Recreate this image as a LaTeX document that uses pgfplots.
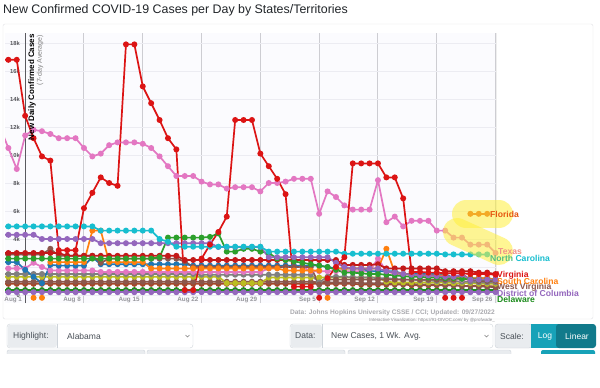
\documentclass[border=0pt]{standalone}
\usepackage{fontspec}
\setmainfont{Liberation Sans}
\usepackage{pgfplots}
\pgfplotsset{compat=1.18}
\usepackage{pgfplotstable}
\definecolor{cRed}{RGB}{220,20,20}
\definecolor{cDark}{RGB}{195,25,25}
\definecolor{cPink}{RGB}{227,119,194}
\definecolor{cCyan}{RGB}{23,190,207}
\definecolor{cPurple}{RGB}{148,103,189}
\definecolor{cGreen}{RGB}{44,160,44}
\definecolor{cOrange}{RGB}{255,127,14}
\definecolor{cBlue}{RGB}{31,119,180}
\definecolor{cBrown}{RGB}{140,86,75}
\definecolor{cGray}{RGB}{127,127,127}
\definecolor{cOlive}{RGB}{188,189,34}
\definecolor{cBrick}{RGB}{165,70,40}
\definecolor{cFlorida}{RGB}{230,85,15}
\definecolor{cDel}{RGB}{30,140,30}
\definecolor{hl}{RGB}{255,240,60}
\definecolor{uiGray}{RGB}{233,236,239}
\definecolor{uiBorder}{RGB}{206,212,218}
\definecolor{uiText}{RGB}{73,80,87}
\definecolor{tealA}{RGB}{23,162,184}
\definecolor{tealB}{RGB}{17,122,139}

\pgfplotstableread{
d R P C U G O D B L K Y V W X E Q
-3 16.8 12.0 4.9 4.3 2.6 nan 3.0 2.9 2.35 1.9 1.5 1.3 0.95 0.8 0.35 0.2
-2 16.8 10.5 4.9 4.3 2.6 nan 3.0 2.9 2.35 1.9 1.5 1.3 0.95 0.8 0.35 0.2
-1 16.8 9.0 4.9 4.3 2.6 nan 3.0 2.9 2.35 1.9 1.5 1.3 0.95 0.8 0.35 0.2
0 12.8 11.4 4.9 4.3 2.6 nan 3.0 2.9 1.8 1.9 1.5 1.3 0.95 0.8 0.35 0.2
1 11.2 11.8 4.9 4.3 2.6 nan 3.0 2.9 1.3 2.3 1.5 1.3 0.95 0.8 0.35 0.2
2 9.9 11.7 4.9 4.0 2.6 nan 3.0 2.9 0.85 2.0 1.5 1.3 0.95 0.8 0.35 0.2
3 9.6 11.5 4.9 4.0 2.6 2.35 3.0 3.3 2.15 1.75 1.5 1.3 0.95 0.8 0.35 0.2
4 3.2 11.2 4.9 4.0 2.6 2.35 3.0 2.8 2.1 1.75 1.5 1.3 0.95 0.8 0.35 0.2
5 3.2 11.2 4.9 4.0 2.6 2.35 2.8 2.8 2.1 1.75 1.5 1.3 0.95 0.8 0.35 0.2
6 3.2 11.2 4.9 4.0 2.6 2.35 2.8 2.8 2.1 1.75 1.5 1.3 0.95 0.8 0.35 0.2
7 6.2 10.5 4.9 4.0 2.6 2.35 2.8 2.8 2.1 1.75 1.5 1.3 0.95 0.8 0.35 0.2
8 7.3 9.9 4.9 4.0 2.6 4.6 2.8 2.8 2.7 1.75 1.5 1.3 0.95 0.8 0.35 0.2
9 8.4 10.1 4.6 3.7 2.6 4.6 2.8 2.3 2.2 1.65 1.5 1.3 0.95 0.8 0.35 0.2
10 8.0 10.7 4.6 3.7 2.6 2.35 2.8 2.6 2.2 1.65 1.5 1.3 0.95 0.8 0.35 0.2
11 7.8 10.9 4.6 3.7 2.6 2.35 2.8 2.6 2.2 1.65 1.5 1.3 0.95 0.8 0.35 0.2
12 17.9 10.9 4.6 3.7 2.6 2.35 2.8 2.6 2.2 1.65 1.5 1.3 0.95 0.8 0.35 0.2
13 17.9 10.9 4.6 3.7 2.6 2.35 2.8 2.6 2.2 1.65 1.5 1.3 0.95 0.8 0.35 0.2
14 14.9 10.8 4.6 3.7 2.6 2.35 2.8 2.6 2.2 1.65 1.5 1.3 0.95 0.8 0.35 0.2
15 13.7 10.5 4.6 3.7 2.6 1.9 2.8 2.6 2.2 1.65 1.5 1.3 0.95 0.8 0.35 0.2
16 12.5 9.9 4.0 3.7 2.7 1.9 2.8 2.6 2.2 1.65 1.5 1.3 0.95 0.8 0.35 0.2
17 11.2 9.2 3.8 3.7 4.1 1.9 2.8 2.6 2.2 1.65 1.5 1.3 0.95 0.8 0.35 0.2
18 10.4 8.5 3.45 3.7 4.1 1.9 2.8 2.6 2.2 1.65 1.5 1.3 0.95 0.8 0.35 0.2
19 0.35 8.5 3.45 3.7 4.1 1.9 2.5 2.4 2.2 1.65 1.5 1.3 0.95 0.8 0.35 0.2
20 0.35 8.5 3.45 3.7 4.1 1.9 2.5 2.0 2.1 1.65 1.5 1.3 0.95 0.8 0.35 0.2
21 2.6 8.1 3.45 3.7 4.1 1.9 2.5 2.0 2.1 1.65 1.45 1.3 0.95 0.8 0.35 0.2
22 3.6 7.9 3.45 3.7 4.15 1.9 2.5 2.0 2.1 1.65 1.45 1.3 0.95 0.8 0.35 0.2
23 4.5 7.9 3.45 3.43 4.4 1.9 2.5 2.0 2.1 1.65 1.45 1.3 0.95 0.8 0.35 0.2
24 5.6 7.6 3.45 3.43 3.1 1.9 2.5 2.0 2.1 1.65 1.45 0.85 0.95 0.8 0.35 0.2
25 12.5 7.7 3.45 3.43 3.1 1.9 2.5 2.0 2.1 1.65 1.45 0.85 0.95 0.8 0.35 0.2
26 12.5 7.7 3.45 3.43 3.3 1.9 2.5 2.0 2.1 1.65 1.45 0.85 0.95 0.8 0.35 0.2
27 12.5 7.7 3.45 3.43 3.3 1.9 2.5 2.0 2.1 1.65 1.45 0.85 0.95 0.8 0.35 0.2
28 10.1 7.4 3.45 3.43 3.1 1.9 2.5 2.0 2.1 1.65 1.45 0.85 0.95 0.8 0.35 0.2
29 9.2 8.0 3.1 2.7 3.0 1.9 2.5 2.0 2.1 1.9 1.45 1.25 0.95 0.8 0.35 0.2
30 8.3 8.0 3.1 2.7 2.6 1.9 2.5 2.0 2.1 2.0 1.45 1.25 0.95 0.8 0.35 0.2
31 7.2 8.1 3.1 2.7 2.5 1.75 2.5 2.0 2.1 2.0 1.45 1.25 0.95 0.8 0.35 0.2
32 0.6 8.3 3.1 2.7 2.4 1.75 2.5 2.0 2.1 2.0 1.45 1.25 0.95 0.8 0.35 0.2
33 0.6 8.3 3.1 2.7 2.3 1.75 2.5 2.0 2.1 2.0 1.45 1.25 0.95 0.8 0.35 0.2
34 0.6 8.3 3.1 2.7 2.2 1.75 2.5 2.0 2.1 1.7 1.45 1.25 0.95 0.8 0.35 0.2
35 nan 5.8 3.1 2.7 2.1 1.75 2.5 0.75 2.1 1.7 0.9 1.25 0.9 0.8 0.35 0.2
36 1.2 7.4 3.1 2.7 2.0 nan 2.5 1.1 2.0 1.7 1.3 1.25 0.9 0.8 0.35 0.2
37 2.0 7.0 3.1 2.3 1.8 1.9 2.5 1.1 1.9 1.7 1.3 1.25 0.9 0.8 0.35 0.2
38 2.7 6.4 2.95 2.0 1.6 1.9 2.15 1.1 1.9 1.7 1.3 1.25 0.9 0.8 0.35 0.2
39 9.4 6.1 2.95 1.9 1.6 1.9 2.15 1.1 1.9 1.7 1.25 1.25 0.9 0.8 0.35 0.2
40 9.4 6.1 2.95 1.9 1.55 1.9 2.15 1.1 1.9 1.7 1.25 1.25 0.85 0.75 0.35 0.2
41 9.4 6.1 2.95 1.9 1.5 1.9 2.15 1.1 1.7 1.7 1.25 1.25 0.85 0.75 0.35 0.2
42 9.4 8.2 2.95 1.9 1.5 1.9 2.2 1.1 1.7 2.6 1.2 1.25 0.85 0.75 0.35 0.2
43 8.4 5.2 2.95 1.7 1.45 3.3 1.9 1.1 1.7 1.7 1.2 0.95 0.85 0.75 0.35 0.2
44 8.4 5.6 2.95 1.6 1.4 1.6 1.9 1.1 1.7 1.5 1.15 0.9 0.8 0.75 0.35 0.2
45 6.9 4.9 2.95 1.5 1.35 1.5 1.9 1.1 1.5 1.5 1.1 0.9 0.8 0.75 0.35 0.2
46 1.65 5.3 2.95 1.45 1.3 1.45 1.9 1.1 1.5 1.5 1.1 0.9 0.8 0.7 0.35 0.2
47 1.65 5.3 2.95 1.4 1.3 1.4 1.9 1.1 1.5 1.5 1.05 0.9 0.75 0.7 0.35 0.2
48 1.6 5.3 2.95 1.4 1.25 1.4 1.9 1.1 1.5 1.5 1.05 0.9 0.75 0.7 0.35 0.2
49 1.6 4.6 2.95 1.35 1.25 1.4 1.9 1.1 1.5 1.5 1.0 0.9 0.75 0.7 0.35 0.2
50 1.55 4.6 2.9 1.3 1.2 1.4 1.7 1.1 1.5 1.5 1.0 0.9 0.7 0.7 0.35 0.2
51 1.55 4.1 2.9 1.3 1.2 1.2 1.7 1.1 1.2 1.1 1.0 0.85 0.7 0.7 0.35 0.2
52 1.55 4.1 2.9 1.45 1.15 1.2 1.7 1.5 1.2 1.1 0.95 0.85 0.65 0.65 0.35 0.2
53 1.5 3.6 2.9 1.1 1.15 1.2 1.7 1.1 1.2 1.1 0.95 0.85 0.65 0.65 0.35 0.2
54 1.5 3.6 2.9 1.1 1.1 1.2 1.6 1.0 1.2 1.1 0.9 0.8 0.6 0.65 0.35 0.2
55 1.5 3.6 2.9 1.1 1.1 1.2 1.6 1.0 1.2 1.1 0.9 0.8 0.6 0.65 0.35 0.2
56 1.45 3.0 nan 1.1 1.1 1.1 1.5 1.0 1.1 1.0 0.9 0.8 0.55 0.6 0.35 0.2
}\data

\newcommand{\lbl}{\fontsize{8.6}{10}\selectfont\bfseries}
\newcommand{\ui}{\fontsize{8.5}{10}\selectfont}

\begin{document}
\begin{tikzpicture}[x=1pt,y=1pt]
\useasboundingbox (0,0) rectangle (600,-388);
\fill[white] (0,0) rectangle (600,-388);
% title
\node[anchor=base west, inner sep=0, font=\fontsize{12.4}{14}\selectfont, text={rgb,255:red,33;green,37;blue,41}] at (3,-13) {New Confirmed COVID-19 Cases per Day by States/Territories};
% card frame
\draw[rounded corners=2pt, draw={rgb,255:red,225;green,225;blue,230}] (3,-24) rectangle (593,-319);

\begin{axis}[
  at={(5pt,-303pt)}, anchor=south west,
  scale only axis, width=491pt, height=270pt,
  xmin=-2.4, xmax=56.05, ymin=-0.571, ymax=18.714,
  axis line style={draw=none},
  axis background/.style={fill={rgb,255:red,251;green,251;blue,254}},
  major tick length=0pt,
  xtick={0,7,14,21,28,35,42,49,56},
  xticklabels={Aug 1,Aug 8,Aug 15,Aug 22,Aug 29,Sep 5,Sep 12,Sep 19,Sep 26},
  xticklabel style={anchor=south east, inner sep=1pt, xshift=-2pt, yshift=-1pt,
     font=\fontsize{6.3}{7}\selectfont\bfseries, text={rgb,255:red,150;green,150;blue,155}},
  ytick={0,2,4,6,8,10,12,14,16,18},
  yticklabels={0,2k,4k,6k,8k,10k,12k,14k,16k,18k},
  yticklabel style={anchor=east, inner sep=1pt, xshift=16pt,
     font=\fontsize{5.8}{7}\selectfont\bfseries, text={rgb,255:red,85;green,85;blue,90}},
  xmajorgrids, ymajorgrids,
  x grid style={draw={rgb,255:red,205;green,205;blue,210}, line width=1pt},
  y grid style={draw={rgb,255:red,236;green,236;blue,242}, line width=0.7pt},
  unbounded coords=jump,
  every axis plot/.append style={line width=1.7pt, mark=*, mark size=2.1pt, mark options={solid}},
]
\draw[draw={rgb,255:red,90;green,90;blue,95}, line width=1pt] (0,-0.571) -- (0,18.714);
\draw[draw={rgb,255:red,120;green,120;blue,125}, line width=1pt] (56.05,-0.571) -- (56.05,18.714);

\addplot[color=cDel] table[x=d,y=E]{\data};
\addplot[color=cPurple] table[x=d,y=Q]{\data};
\addplot[color=cBrick] table[x=d,y=X]{\data};
\addplot[color=cBrown] table[x=d,y=W]{\data};
\addplot[color=cOlive] table[x=d,y=V]{\data};
\addplot[color=cGray] table[x=d,y=Y]{\data};
\addplot[color=cPink] table[x=d,y=K]{\data};
\addplot[color=cBlue] table[x=d,y=L]{\data};
\addplot[color=cBrown] table[x=d,y=B]{\data};
\addplot[color=cDark] table[x=d,y=D]{\data};
\addplot[color=cOrange] table[x=d,y=O]{\data};
\addplot[color=cGreen] table[x=d,y=G]{\data};
\addplot[color=cPurple] table[x=d,y=U]{\data};
\addplot[color=cCyan] table[x=d,y=C]{\data};
\addplot[color=cPink] table[x=d,y=P]{\data};
\addplot[color=cRed] table[x=d,y=R]{\data};
\addplot[color=cFlorida] coordinates {(53,5.8) (54,5.8) (55,5.8)};
\addplot[only marks, color=cRed] coordinates {(35,-0.2) (50,-0.2) (51,-0.2) (52,-0.2)};
\addplot[only marks, color=cOrange] coordinates {(1,-0.2) (2,-0.2) (36,-0.2)};
\end{axis}

% highlight blobs
\draw[hl, opacity=0.55, line width=28pt, line cap=round] (466,-214) -- (499,-214);
\draw[hl, opacity=0.55, line width=28pt, line cap=round] (457,-232) -- (499,-251);

% end labels
\node[anchor=west, inner sep=0, font=\lbl, text=cDel] at (497,-299) {Delaware};
\node[anchor=west, inner sep=0, font=\lbl, text=cPurple] at (497,-293) {District of Columbia};
\node[anchor=west, inner sep=0, font=\lbl, text=cBrown] at (497,-287.5) {West Virginia};
\node[anchor=west, inner sep=0, font=\lbl, text=cOrange] at (497,-281.5) {South Carolina};
\node[anchor=west, inner sep=0, font=\lbl, text=cRed] at (497,-275.5) {Virginia};
\node[anchor=west, inner sep=0, font=\lbl] at (490,-258.5) {\textcolor[RGB]{80,190,130}{North} \textcolor{cCyan}{Carolina}};
\node[anchor=west, inner sep=0, font=\lbl, text={rgb,255:red,240;green,145;blue,135}] at (498,-252) {Texas};
\node[anchor=west, inner sep=0, font=\lbl, text=cFlorida] at (490,-214) {Florida};

% y axis title
\node[rotate=90, anchor=east, inner sep=0, font=\fontsize{8}{9}\selectfont\bfseries] at (32,-34) {New Daily Confirmed Cases};
\node[rotate=90, anchor=east, inner sep=0, font=\fontsize{7}{8}\selectfont, text=gray] at (40,-35) {(7-day Average)};

% source
\node[anchor=base east, inner sep=0, font=\fontsize{6.6}{8}\selectfont\bfseries, text={rgb,255:red,170;green,170;blue,175}] at (495,-314.5) {Data: Johns Hopkins University CSSE / CCI; Updated: 09/27/2022};
\node[anchor=base east, inner sep=0, font=\fontsize{4.4}{5}\selectfont, text={rgb,255:red,140;green,140;blue,145}] at (495,-321.5) {Interactive Visualization: https://91-DIVOC.com/ by @profwade\_};

% UI controls row 1
\draw[uiBorder, fill=white, rounded corners=3pt] (7,-324) rectangle (193,-348);
\fill[uiGray, rounded corners=3pt] (7.5,-324.5) rectangle (57,-347.5);
\draw[uiBorder] (57,-324) -- (57,-348);
\node[anchor=west, inner sep=0, font=\ui, text=uiText] at (13,-336) {Highlight:};
\node[anchor=west, inner sep=0, font=\ui, text=uiText] at (67,-336) {Alabama};
\draw[gray, line width=0.5pt] (185.5,-335) -- (187.5,-337) -- (189.5,-335);

\draw[uiBorder, fill=white, rounded corners=3pt] (290,-324) rectangle (493,-348);
\fill[uiGray, rounded corners=3pt] (290.5,-324.5) rectangle (322,-347.5);
\draw[uiBorder] (322,-324) -- (322,-348);
\node[anchor=west, inner sep=0, font=\ui, text=uiText] at (295,-336) {Data:};
\node[anchor=west, inner sep=0, font=\ui, text=uiText] at (331,-336) {New Cases, 1 Wk. Avg.};
\draw[gray, line width=0.5pt] (484.5,-335) -- (486.5,-337) -- (488.5,-335);

\draw[uiBorder, fill=uiGray, rounded corners=3pt] (495,-324) rectangle (532,-348);
\node[anchor=west, inner sep=0, font=\ui, text=uiText] at (500,-336) {Scale:};
\fill[tealA] (531,-324) rectangle (559,-348);
\fill[tealB, rounded corners=3pt] (556,-324) rectangle (596,-348);
\fill[tealB] (558,-324) rectangle (565,-348);
\node[inner sep=0, font=\ui, text=white] at (545,-336) {Log};
\node[inner sep=0, font=\ui, text=white] at (577,-336) {Linear};

% UI controls row 2 (tops)
\draw[uiBorder, fill=uiGray, rounded corners=2pt] (7,-350) rectangle (145,-356);
\draw[uiBorder, fill=uiGray, rounded corners=2pt] (147,-350) rectangle (345,-356);
\draw[uiBorder, fill=uiGray, rounded corners=2pt] (348,-350) rectangle (511,-356);
\fill[tealA, rounded corners=2pt] (541,-350) rectangle (595,-356);
\fill[white] (0,-354) rectangle (600,-388);
\end{tikzpicture}
\end{document}
